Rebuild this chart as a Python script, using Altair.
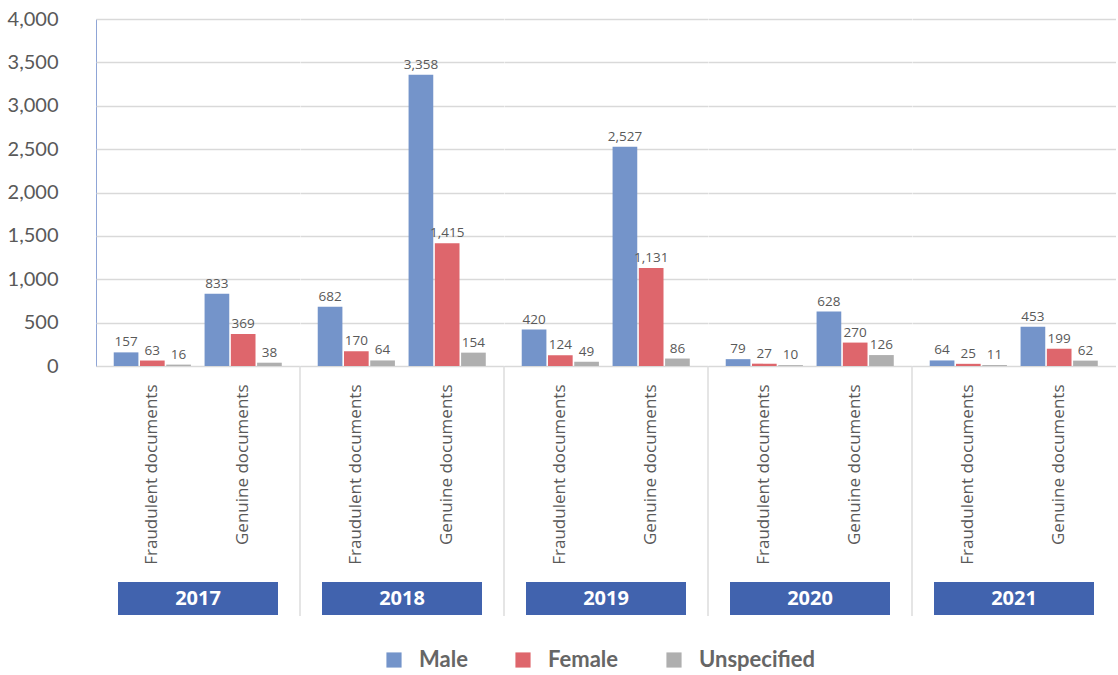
import altair as alt
import pandas as pd

years = ["2017", "2018", "2019", "2020", "2021"]
docs = ["Fraudulent documents", "Genuine documents"]
sexes = ["Male", "Female", "Unspecified"]

# values per (year, doc) in order: 2017 F, 2017 G, 2018 F, 2018 G, ...
male = [157, 833, 682, 3358, 420, 2527, 79, 628, 64, 453]
female = [63, 369, 170, 1415, 124, 1131, 27, 270, 25, 199]
unspecified = [16, 38, 64, 154, 49, 86, 10, 126, 11, 62]

colors = ["#7494CA", "#DE666C", "#AFAFAF"]

rows = []
i = 0
for y in years:
    for d in docs:
        for s, arr in zip(sexes, [male, female, unspecified]):
            rows.append({"year": y, "doc": d, "sex": s, "value": arr[i]})
        i += 1
df = pd.DataFrame(rows)

base = alt.Chart()

x_enc = alt.X(
    "doc:N", sort=docs,
    scale=alt.Scale(paddingInner=0, paddingOuter=0.12),
    axis=alt.Axis(title=None, labelAngle=270, ticks=False, labelPadding=18,
                  labelFontSize=17, labelFont="Open Sans", labelColor="#595959",
                  domainColor="#8FA5D6", grid=False, labelLimit=300),
)
xoff = alt.XOffset("sex:N", sort=sexes,
                   scale=alt.Scale(paddingInner=0.06, paddingOuter=0.26))
y_enc = alt.Y(
    "value:Q",
    scale=alt.Scale(domain=[0, 4000]),
    axis=alt.Axis(title=None, values=[0, 500, 1000, 1500, 2000, 2500, 3000, 3500, 4000],
                  format=",.0f", ticks=False, labelPadding=38, labelFontSize=20,
                  labelFont="Lato", labelColor="#595959", domainColor="#8FA5D6",
                  gridColor="#D9D9D9", gridWidth=1.3),
)

bars = base.mark_bar().encode(
    x=x_enc,
    xOffset=xoff,
    y=y_enc,
    color=alt.Color(
        "sex:N", sort=sexes,
        scale=alt.Scale(domain=sexes, range=colors),
        legend=alt.Legend(title=None, orient="none", direction="horizontal",
                          legendX=287, legendY=630, symbolType="square",
                          symbolSize=230, symbolStrokeWidth=0, labelFontSize=22,
                          labelFont="Lato", labelFontWeight="bold", labelColor="#666666",
                          columnPadding=44, labelOffset=14),
    ),
)

labels = base.mark_text(baseline="bottom", dy=-3, fontSize=13.5, font="Open Sans",
                        color="#595959").encode(
    x=x_enc, xOffset=xoff, y=y_enc,
    text=alt.Text("value:Q", format=",.0f"),
)

one = "datum.doc == 'Fraudulent documents' && datum.sex == 'Male'"

sep = base.transform_filter(one + " && datum.year != '2017'").mark_rule(
    color="#DDDDDD", strokeWidth=1.5).encode(
    x=alt.value(0), y=alt.value(347), y2=alt.value(597))

yearbox = base.transform_filter(one).mark_rect(color="#4163AE").encode(
    x=alt.value(22), x2=alt.value(182), y=alt.value(563), y2=alt.value(596))

yeartext = base.transform_filter(one).mark_text(
    color="white", fontSize=20, font="Open Sans", fontWeight="bold").encode(
    x=alt.value(102), y=alt.value(580), text="year:N")

layer = alt.layer(bars, labels, sep, yearbox, yeartext, data=df).properties(
    width=203.5, height=347)

chart = layer.facet(
    column=alt.Column("year:N", sort=years, title=None,
                      header=alt.Header(labels=False, title=None)),
    spacing=0,
    bounds="flush",
).properties(
    padding={"left": 7, "top": 9, "right": 0, "bottom": 0}
).configure_view(stroke=None)

chart.save("out.html", embed_options={"renderer": "svg", "actions": False})
